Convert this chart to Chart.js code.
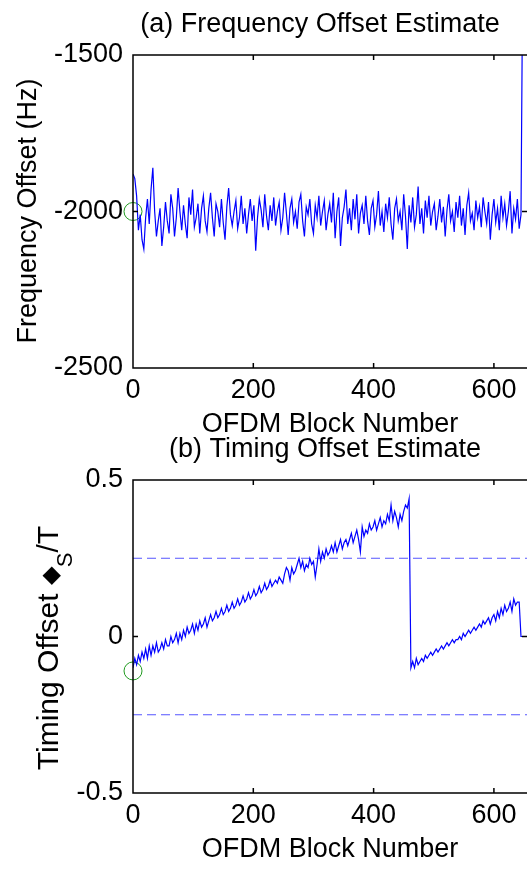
<!DOCTYPE html>
<html>
<head>
<meta charset="utf-8">
<script src="https://cdn.jsdelivr.net/npm/chart.js@4.4.0/dist/chart.umd.min.js"></script>
<style>
  body { margin: 0; background: #fff; overflow: hidden; }
  #quadro { position: relative; width: 527px; height: 870px; }
  #quadro canvas { position: absolute; left: 0; }
  #graficoFreq { top: 0; }
  #graficoTiming { top: 430px; }
</style>
</head>
<body>
<div id="quadro">
  <canvas id="graficoFreq" width="527" height="445"></canvas>
  <canvas id="graficoTiming" width="527" height="440"></canvas>
</div>
<script>
// Dados (um ponto a cada 3 blocos OFDM)
const blocos = [
  0, 3, 6, 9, 12, 15, 18, 21, 24, 27, 30, 33, 36, 39, 42, 45, 48, 51, 54, 57,
  60, 63, 66, 69, 72, 75, 78, 81, 84, 87, 90, 93, 96, 99, 102, 105, 108, 111, 114, 117,
  120, 123, 126, 129, 132, 135, 138, 141, 144, 147, 150, 153, 156, 159, 162, 165, 168, 171, 174, 177,
  180, 183, 186, 189, 192, 195, 198, 201, 204, 207, 210, 213, 216, 219, 222, 225, 228, 231, 234, 237,
  240, 243, 246, 249, 252, 255, 258, 261, 264, 267, 270, 273, 276, 279, 282, 285, 288, 291, 294, 297,
  300, 303, 306, 309, 312, 315, 318, 321, 324, 327, 330, 333, 336, 339, 342, 345, 348, 351, 354, 357,
  360, 363, 366, 369, 372, 375, 378, 381, 384, 387, 390, 393, 396, 399, 402, 405, 408, 411, 414, 417,
  420, 423, 426, 429, 432, 435, 438, 441, 444, 447, 450, 453, 456, 459, 462, 465, 468, 471, 474, 477,
  480, 483, 486, 489, 492, 495, 498, 501, 504, 507, 510, 513, 516, 519, 522, 525, 528, 531, 534, 537,
  540, 543, 546, 549, 552, 555, 558, 561, 564, 567, 570, 573, 576, 579, 582, 585, 588, 591, 594, 597,
  600, 603, 606, 609, 612, 615, 618, 621, 624, 627, 630, 633, 636, 639, 642, 645, 648, 651, 654, 657
];

// (a) estimativa do desvio de frequencia (Hz)
const freqOffset = [
  -1880, -1895, -1950, -2060, -2010, -2090, -2120, -2020, -1960, -2040, -1930, -1860, -2000, -2080, -2030, -1990, -2110, -2050, -1970, -2030,
  -2070, -1945, -1990, -2080, -2020, -1925, -2000, -2060, -1980, -2040, -2085, -1955, -2010, -1930, -2050, -2020, -1975, -2070, -1990, -1950,
  -2030, -2065, -1990, -1940, -2020, -2080, -1975, -2000, -2050, -1960, -2035, -2090, -1985, -1925, -2010, -2045, -2000, -1965, -2055, -2020,
  -1950, -2040, -1990, -2070, -2010, -1960, -2030, -1980, -2125, -2020, -1960, -1995, -2050, -1945, -2015, -2060, -1980, -2030, -1955, -2045,
  -2000, -1970, -2060, -2020, -1940, -2005, -2075, -1990, -1960, -2035, -2000, -2055, -1970, -1945, -2030, -2080, -1985, -2010, -1960, -2040,
  -2070, -1980, -2020, -1950, -2045, -2000, -1965, -2060, -2010, -1975, -2035, -1940, -2085, -2000, -1955, -2110, -2020, -1985, -1930, -2040,
  -1990, -2060, -1960, -2025, -1945, -2070, -2005, -1980, -2040, -1950, -2030, -2075, -1990, -1965, -2050, -2010, -1935, -2045, -2000, -2065,
  -1975, -2020, -1955, -2040, -2090, -1990, -1960, -2030, -2000, -2060, -1945, -2015, -2120, -1980, -2035, -1955, -2050, -2010, -1920, -2040,
  -1990, -2070, -1965, -2020, -1950, -2045, -2000, -1975, -2060, -2015, -1960, -2035, -1985, -2080, -1995, -1945, -2030, -2000, -2065, -1970,
  -2020, -1950, -2045, -1990, -2075, -1980, -1940, -2030, -2005, -2060, -1965, -2020, -1985, -2050, -1955, -2000, -2040, -1970, -2090, -2010,
  -1960, -2035, -1990, -2060, -1950, -2020, -1975, -2045, -2000, -1935, -2070, -1990, -2025, -1960, -2055, -2010, -1200, -1200, -1200, -1200
];

// (b) estimativa do desvio de sincronismo (tau_S / T)
const timingOffset = [
  -0.10, -0.07, -0.09, -0.06, -0.08, -0.05, -0.07, -0.04, -0.07, -0.03, -0.06, -0.03, -0.05, -0.02, -0.05, -0.04, -0.02, -0.04, -0.01, -0.03,
  -0.03, 0.00, -0.02, -0.01, 0.01, -0.02, 0.01, -0.01, 0.02, 0.00, 0.03, 0.01, 0.02, 0.04, 0.01, 0.04, 0.02, 0.05, 0.03, 0.04,
  0.06, 0.03, 0.05, 0.07, 0.05, 0.06, 0.08, 0.06, 0.07, 0.09, 0.07, 0.08, 0.10, 0.08, 0.09, 0.11, 0.09, 0.10, 0.12, 0.10,
  0.11, 0.13, 0.11, 0.12, 0.14, 0.12, 0.13, 0.15, 0.13, 0.14, 0.16, 0.14, 0.15, 0.17, 0.15, 0.16, 0.18, 0.16, 0.17, 0.18,
  0.17, 0.19, 0.18, 0.17, 0.20, 0.22, 0.21, 0.18, 0.22, 0.20, 0.21, 0.23, 0.25, 0.22, 0.24, 0.21, 0.23, 0.22, 0.25, 0.23,
  0.24, 0.19, 0.23, 0.28, 0.24, 0.27, 0.25, 0.28, 0.26, 0.27, 0.29, 0.27, 0.30, 0.27, 0.29, 0.31, 0.28, 0.30, 0.31, 0.29,
  0.31, 0.33, 0.30, 0.32, 0.34, 0.31, 0.27, 0.35, 0.32, 0.34, 0.33, 0.36, 0.34, 0.35, 0.37, 0.34, 0.36, 0.38, 0.35, 0.37,
  0.36, 0.39, 0.37, 0.42, 0.37, 0.40, 0.38, 0.35, 0.39, 0.37, 0.40, 0.42, 0.41, 0.44, -0.10, -0.08, -0.10, -0.07, -0.09, -0.08,
  -0.07, -0.08, -0.06, -0.07, -0.06, -0.05, -0.06, -0.05, -0.04, -0.05, -0.04, -0.03, -0.04, -0.03, -0.02, -0.03, -0.02, -0.01, -0.02, -0.01,
  -0.01, 0.00, -0.01, 0.01, 0.00, 0.01, 0.02, 0.01, 0.02, 0.03, 0.02, 0.03, 0.04, 0.03, 0.05, 0.04, 0.05, 0.06, 0.04, 0.06,
  0.07, 0.05, 0.08, 0.06, 0.09, 0.07, 0.10, 0.08, 0.09, 0.11, 0.08, 0.12, 0.10, 0.11, 0.11, 0.00, 0.00, 0.00, 0.00, 0.00
];

// Marcadores iniciais (circulos verdes) e limiares tracejados
const freqInicial = [0, -2000];
const timingInicial = [0, -0.11];
const limiaresTiming = [-0.25, 0.25];

// Eixos
const xMin = 0;
const xMax = 655;
const xTicks = [0, 200, 400, 600];
const freqTicks = [-2500, -2000, -1500];
const timingTicks = [-0.5, 0, 0.5];

const familia = '"Liberation Sans", Arial, sans-serif';
Chart.defaults.font.family = familia;
Chart.defaults.font.size = 27;
Chart.defaults.color = '#000';

const azul = '#0000ff';
const verde = '#1f9a1f';

function pares(xs, ys) {
  return xs.map((v, i) => ({ x: v, y: ys[i] }));
}

// desenha a moldura com marcas internas e os textos (titulo e rotulos)
function criaMoldura(cfg) {
  return {
    id: 'moldura',
    afterDatasetsDraw(chart) {
      const { ctx, chartArea: a, scales } = chart;
      ctx.save();
      ctx.strokeStyle = '#000';
      ctx.lineWidth = 1.5;
      ctx.beginPath();
      ctx.moveTo(a.right + 2, a.top);
      ctx.lineTo(a.left, a.top);
      ctx.lineTo(a.left, a.bottom);
      ctx.lineTo(a.right + 2, a.bottom);
      xTicks.forEach(v => {
        if (v === xMin) return;
        const p = scales.x.getPixelForValue(v);
        ctx.moveTo(p, a.bottom); ctx.lineTo(p, a.bottom - 5);
        ctx.moveTo(p, a.top); ctx.lineTo(p, a.top + 5);
      });
      cfg.yTicks.slice(1, -1).forEach(v => {
        const p = scales.y.getPixelForValue(v);
        ctx.moveTo(a.left, p); ctx.lineTo(a.left + 5, p);
        ctx.moveTo(a.right, p); ctx.lineTo(a.right - 5, p);
      });
      ctx.stroke();

      ctx.fillStyle = '#000';
      ctx.textBaseline = 'alphabetic';
      ctx.textAlign = 'center';
      ctx.font = '27px ' + familia;
      ctx.fillText(cfg.titulo, cfg.tituloX, cfg.tituloY);
      ctx.fillText('OFDM Block Number', (a.left + a.right) / 2, a.bottom + cfg.xTituloDy);

      // rotulo do eixo y (girado)
      ctx.translate(cfg.yRotX, cfg.yRotY);
      ctx.rotate(-Math.PI / 2);
      ctx.textAlign = 'left';
      let total = 0;
      cfg.yRotulo.forEach(p => {
        ctx.font = p.size + 'px ' + familia;
        p.w = ctx.measureText(p.t).width;
        total += p.w;
      });
      let pos = -total / 2;
      cfg.yRotulo.forEach(p => {
        ctx.font = p.size + 'px ' + familia;
        ctx.fillText(p.t, pos, p.dy || 0);
        pos += p.w;
      });
      ctx.restore();
    }
  };
}

function escalas(yMin, yMax, yTicks, alturaX) {
  return {
    x: {
      type: 'linear', min: xMin, max: xMax,
      grid: { display: false, drawTicks: false },
      border: { display: false },
      ticks: { padding: 6, maxRotation: 0, callback: v => String(v) },
      afterBuildTicks: s => { s.ticks = xTicks.map(v => ({ value: v })); },
      afterFit: s => { s.height = alturaX; s.paddingLeft = 0; s.paddingRight = 0; }
    },
    y: {
      min: yMin, max: yMax,
      grid: { display: false, drawTicks: false },
      border: { display: false },
      ticks: { padding: 10, callback: v => String(v) },
      afterBuildTicks: s => { s.ticks = yTicks.map(v => ({ value: v })); },
      afterFit: s => { s.width = 133; }
    }
  };
}

// Grafico (a): desvio de frequencia
new Chart(document.getElementById('graficoFreq').getContext('2d'), {
  type: 'line',
  data: {
    datasets: [{
      data: pares(blocos, freqOffset),
      borderColor: azul, borderWidth: 1.2, pointRadius: 0, tension: 0
    }, {
      data: [{ x: freqInicial[0], y: freqInicial[1] }],
      showLine: false, pointRadius: 9, pointStyle: 'circle',
      borderColor: verde, backgroundColor: 'rgba(0,0,0,0)', pointBorderWidth: 1, clip: false
    }]
  },
  options: {
    responsive: false, animation: false, devicePixelRatio: 1,
    layout: { autoPadding: false, padding: { top: 55, right: 0, left: 0, bottom: 0 } },
    plugins: { legend: { display: false }, title: { display: false }, tooltip: { enabled: false } },
    scales: escalas(-2500, -1500, freqTicks, 77)
  },
  plugins: [criaMoldura({
    yTicks: freqTicks,
    titulo: '(a) Frequency Offset Estimate', tituloX: 320, tituloY: 32,
    xTituloDy: 64,
    yRotX: 36, yRotY: 211,
    yRotulo: [{ t: 'Frequency Offset (Hz)', size: 27 }]
  })]
});

// Grafico (b): desvio de sincronismo
new Chart(document.getElementById('graficoTiming').getContext('2d'), {
  type: 'line',
  data: {
    datasets: [{
      data: pares(blocos, timingOffset),
      borderColor: azul, borderWidth: 1.2, pointRadius: 0, tension: 0
    }, {
      data: [{ x: xMin, y: limiaresTiming[1] }, { x: xMax, y: limiaresTiming[1] }],
      borderColor: '#5555ff', borderWidth: 1, borderDash: [9, 5], pointRadius: 0
    }, {
      data: [{ x: xMin, y: limiaresTiming[0] }, { x: xMax, y: limiaresTiming[0] }],
      borderColor: '#5555ff', borderWidth: 1, borderDash: [9, 5], pointRadius: 0
    }, {
      data: [{ x: timingInicial[0], y: timingInicial[1] }],
      showLine: false, pointRadius: 9, pointStyle: 'circle',
      borderColor: verde, backgroundColor: 'rgba(0,0,0,0)', pointBorderWidth: 1, clip: false
    }]
  },
  options: {
    responsive: false, animation: false, devicePixelRatio: 1,
    layout: { autoPadding: false, padding: { top: 50, right: 0, left: 0, bottom: 0 } },
    plugins: { legend: { display: false }, title: { display: false }, tooltip: { enabled: false } },
    scales: escalas(-0.5, 0.5, timingTicks, 77)
  },
  plugins: [criaMoldura({
    yTicks: timingTicks,
    titulo: '(b) Timing Offset Estimate', tituloX: 325, tituloY: 27,
    xTituloDy: 64,
    yRotX: 58, yRotY: 218,
    yRotulo: [
      { t: 'Timing Offset ', size: 30 },
      { t: '\u25C6', size: 24 },
      { t: 'S', size: 22, dy: 14 },
      { t: '/T', size: 30 }
    ]
  })]
});
</script>
</body>
</html>
